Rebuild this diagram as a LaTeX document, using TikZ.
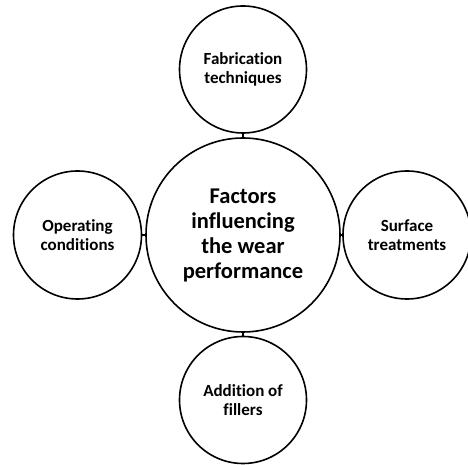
\documentclass[tikz,border=0pt]{standalone}
\usepackage{fontspec}
\setmainfont{Carlito}[Ligatures=NoCommon]
\begin{document}
\begin{tikzpicture}[x=1pt,y=1pt,
  ring/.style={draw=black,line width=1.6pt,circle,inner sep=0pt,outer sep=0pt,align=center,font=\bfseries\fontsize{17}{19.5}\selectfont},
  bigring/.style={ring,font=\bfseries\fontsize{22.5}{25}\selectfont},
  link/.style={draw=black,line width=1.6pt}]
\useasboundingbox (0,0) rectangle (468,465);
\node[bigring,minimum size=194pt] (c) at (243,230) {Factors\\influencing\\the wear\\performance};
\node[ring,minimum size=127pt] (t) at (243,395.5) {Fabrication\\techniques};
\node[ring,minimum size=128pt] (l) at (77.5,230) {Operating\\conditions};
\node[ring,minimum size=128pt] (r) at (407,230) {Surface\\treatments};
\node[ring,minimum size=127pt] (b) at (243,65) {Addition of\\fillers};
\draw[link] (t.south) -- (c.north);
\draw[link] (l.east) -- (c.west);
\draw[link] (r.west) -- (c.east);
\draw[link] (b.north) -- (c.south);
\end{tikzpicture}
\end{document}
